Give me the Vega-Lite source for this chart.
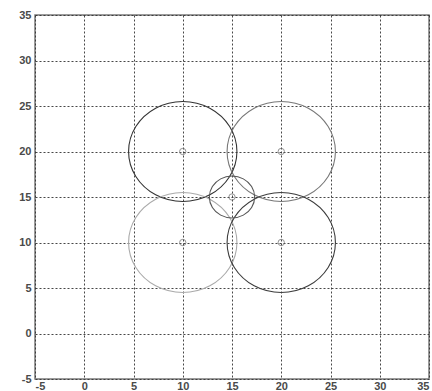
{
  "$schema": "https://vega.github.io/schema/vega-lite/v6.json",
  "width": 394,
  "height": 364,
  "autosize": {"type": "none"},
  "padding": {"left": 35, "top": 15, "right": 3, "bottom": 12},
  "background": "white",
  "config": {
    "view": {"stroke": "#7a7a7a", "strokeWidth": 1.5},
    "axis": {
      "grid": true,
      "gridColor": "#333333",
      "gridDash": [2, 2],
      "gridWidth": 1,
      "gridOpacity": 0.9,
      "domain": false,
      "ticks": false,
      "labelFont": "Liberation Sans",
      "labelFontSize": 11,
      "labelFontWeight": "bold",
      "labelColor": "#4a4a4a",
      "labelExpr": "replace(datum.label, '\u2212', '-')",
      "title": null
    }
  },
  "datasets": {
    "circles": [
      {"c": "A", "i": 0, "x": 15.5, "y": 20}, {"c": "A", "i": 1, "x": 14.763, "y": 22.75}, {"c": "A", "i": 2, "x": 12.75, "y": 24.763}, {"c": "A", "i": 3, "x": 10, "y": 25.5}, {"c": "A", "i": 4, "x": 7.25, "y": 24.763}, {"c": "A", "i": 5, "x": 5.237, "y": 22.75}, {"c": "A", "i": 6, "x": 4.5, "y": 20}, {"c": "A", "i": 7, "x": 5.237, "y": 17.25}, {"c": "A", "i": 8, "x": 7.25, "y": 15.237}, {"c": "A", "i": 9, "x": 10, "y": 14.5}, {"c": "A", "i": 10, "x": 12.75, "y": 15.237}, {"c": "A", "i": 11, "x": 14.763, "y": 17.25},
      {"c": "B", "i": 0, "x": 25.5, "y": 20}, {"c": "B", "i": 1, "x": 24.763, "y": 22.75}, {"c": "B", "i": 2, "x": 22.75, "y": 24.763}, {"c": "B", "i": 3, "x": 20, "y": 25.5}, {"c": "B", "i": 4, "x": 17.25, "y": 24.763}, {"c": "B", "i": 5, "x": 15.237, "y": 22.75}, {"c": "B", "i": 6, "x": 14.5, "y": 20}, {"c": "B", "i": 7, "x": 15.237, "y": 17.25}, {"c": "B", "i": 8, "x": 17.25, "y": 15.237}, {"c": "B", "i": 9, "x": 20, "y": 14.5}, {"c": "B", "i": 10, "x": 22.75, "y": 15.237}, {"c": "B", "i": 11, "x": 24.763, "y": 17.25},
      {"c": "C", "i": 0, "x": 15.5, "y": 10}, {"c": "C", "i": 1, "x": 14.763, "y": 12.75}, {"c": "C", "i": 2, "x": 12.75, "y": 14.763}, {"c": "C", "i": 3, "x": 10, "y": 15.5}, {"c": "C", "i": 4, "x": 7.25, "y": 14.763}, {"c": "C", "i": 5, "x": 5.237, "y": 12.75}, {"c": "C", "i": 6, "x": 4.5, "y": 10}, {"c": "C", "i": 7, "x": 5.237, "y": 7.25}, {"c": "C", "i": 8, "x": 7.25, "y": 5.237}, {"c": "C", "i": 9, "x": 10, "y": 4.5}, {"c": "C", "i": 10, "x": 12.75, "y": 5.237}, {"c": "C", "i": 11, "x": 14.763, "y": 7.25},
      {"c": "D", "i": 0, "x": 25.5, "y": 10}, {"c": "D", "i": 1, "x": 24.763, "y": 12.75}, {"c": "D", "i": 2, "x": 22.75, "y": 14.763}, {"c": "D", "i": 3, "x": 20, "y": 15.5}, {"c": "D", "i": 4, "x": 17.25, "y": 14.763}, {"c": "D", "i": 5, "x": 15.237, "y": 12.75}, {"c": "D", "i": 6, "x": 14.5, "y": 10}, {"c": "D", "i": 7, "x": 15.237, "y": 7.25}, {"c": "D", "i": 8, "x": 17.25, "y": 5.237}, {"c": "D", "i": 9, "x": 20, "y": 4.5}, {"c": "D", "i": 10, "x": 22.75, "y": 5.237}, {"c": "D", "i": 11, "x": 24.763, "y": 7.25},
      {"c": "E", "i": 0, "x": 17.3, "y": 15}, {"c": "E", "i": 1, "x": 16.992, "y": 16.15}, {"c": "E", "i": 2, "x": 16.15, "y": 16.992}, {"c": "E", "i": 3, "x": 15, "y": 17.3}, {"c": "E", "i": 4, "x": 13.85, "y": 16.992}, {"c": "E", "i": 5, "x": 13.008, "y": 16.15}, {"c": "E", "i": 6, "x": 12.7, "y": 15}, {"c": "E", "i": 7, "x": 13.008, "y": 13.85}, {"c": "E", "i": 8, "x": 13.85, "y": 13.008}, {"c": "E", "i": 9, "x": 15, "y": 12.7}, {"c": "E", "i": 10, "x": 16.15, "y": 13.008}, {"c": "E", "i": 11, "x": 16.992, "y": 13.85}
    ],
    "centers": [
      {"c": "A", "x": 10, "y": 20},
      {"c": "B", "x": 20, "y": 20},
      {"c": "C", "x": 10, "y": 10},
      {"c": "D", "x": 20, "y": 10},
      {"c": "E", "x": 15, "y": 15}
    ]
  },
  "layer": [
    {
      "data": {"name": "circles"},
      "mark": {"type": "line", "interpolate": "cardinal-closed", "strokeWidth": 1.1},
      "encoding": {
        "x": {"field": "x", "type": "quantitative", "scale": {"domain": [-5, 35], "nice": false}, "axis": {"values": [-5, 0, 5, 10, 15, 20, 25, 30, 35], "labelPadding": 1}},
        "y": {"field": "y", "type": "quantitative", "scale": {"domain": [-5, 35], "nice": false}, "axis": {"values": [-5, 0, 5, 10, 15, 20, 25, 30, 35], "labelPadding": 4}},
        "detail": {"field": "c"},
        "order": {"field": "i", "type": "quantitative"},
        "color": {"field": "c", "type": "nominal", "legend": null, "scale": {"domain": ["A", "B", "C", "D", "E"], "range": ["#333333", "#777777", "#aaaaaa", "#3c3c3c", "#555555"]}}
      }
    },
    {
      "data": {"name": "centers"},
      "mark": {"type": "point", "shape": "circle", "size": 40, "filled": false, "strokeWidth": 1, "color": "#666666"},
      "encoding": {
        "x": {"field": "x", "type": "quantitative"},
        "y": {"field": "y", "type": "quantitative"}
      }
    }
  ]
}
